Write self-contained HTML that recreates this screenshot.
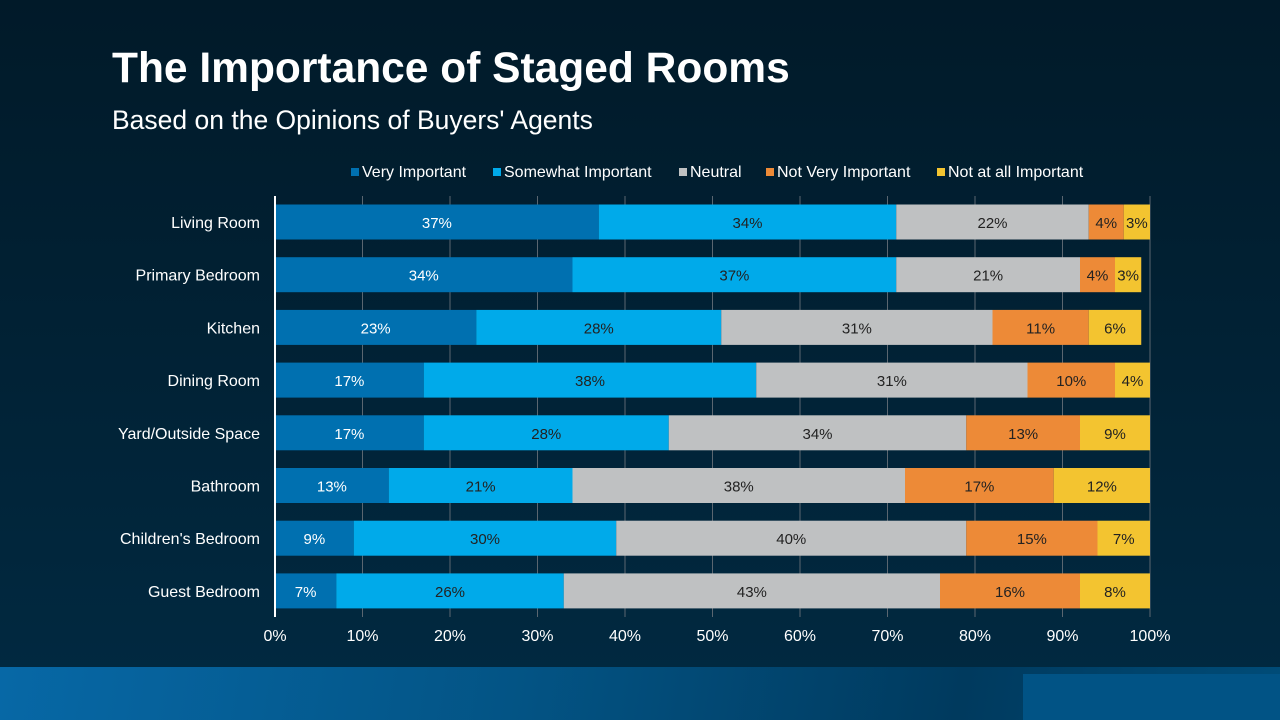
<!DOCTYPE html>
<html><head><meta charset="utf-8"><style>
body{margin:0;width:1280px;height:720px;overflow:hidden;background:linear-gradient(180deg,#011a29 0%,#012a42 100%);font-family:"Liberation Sans",sans-serif;position:relative}
#title{position:absolute;left:112px;top:45px;color:#fff;font-size:42.5px;font-weight:bold}
#sub{position:absolute;left:112px;top:105px;color:#fff;font-size:26.5px}
#band{position:absolute;left:0;top:667px;width:1280px;height:53px;background:linear-gradient(100deg,#0768a6 0%,#035485 40%,#003a5e 75%,#004c78 100%)}
#box{position:absolute;left:1023px;top:674px;width:257px;height:46px;background:#015385}
svg{position:absolute;left:0;top:0}
</style></head><body>
<div id="title">The Importance of Staged Rooms</div>
<div id="sub">Based on the Opinions of Buyers' Agents</div>
<div id="band"></div>
<div id="box"></div>
<svg id="chart" width="1280" height="720"></svg>
<script>
const categories=["Living Room","Primary Bedroom","Kitchen","Dining Room","Yard/Outside Space","Bathroom","Children's Bedroom","Guest Bedroom"];
const seriesNames=["Very Important","Somewhat Important","Neutral","Not Very Important","Not at all Important"];
const veryImportant=[37,34,23,17,17,13,9,7];
const somewhatImportant=[34,37,28,38,28,21,30,26];
const neutral=[22,21,31,31,34,38,40,43];
const notVery=[4,4,11,10,13,17,15,16];
const notAtAll=[3,3,6,4,9,12,7,8];
const tickLabels=["0%","10%","20%","30%","40%","50%","60%","70%","80%","90%","100%"];
const series=[veryImportant,somewhatImportant,neutral,notVery,notAtAll];
const colors=["#0070b0","#00aaea","#bfc1c2","#ed8a37","#f3c430"];
const textColors=["#fff","#222","#222","#222","#222"];
const NS="http://www.w3.org/2000/svg";
const svg=document.getElementById('chart');
const x=v=>275+Math.min(v,100)*8.75;
const y=i=>222+i*52.7;
function mk(t,a){const e=document.createElementNS(NS,t);for(const k in a)e.setAttribute(k,a[k]);svg.appendChild(e);return e;}
tickLabels.forEach((t,i)=>{
 const l=mk('line',{x1:x(i*10),x2:x(i*10),y1:196,y2:617,stroke:'#5a6670','stroke-width':1});
 
 
 const tx=mk('text',{x:x(i*10),y:641,fill:'#fff','font-size':16,'text-anchor':'middle'});
 tx.textContent=t;
 
 
});
categories.forEach((c,i)=>{
 let acc=0;
 series.forEach((s,j)=>{
  const v=s[i];
  const w=x(acc+v)-x(acc);
  const r=mk('rect',{x:x(acc),y:y(i)-17.5,width:w,height:35,fill:colors[j]});
  
  
  const t=mk('text',{x:x(acc)+w/2,y:y(i)+6,fill:textColors[j],'font-size':15,'text-anchor':'middle'});
  t.textContent=v+'%';
  
  
  acc+=v;
 });
 const lb=mk('text',{x:260,y:y(i)+6,fill:'#fff','font-size':16,'text-anchor':'end'});
 lb.textContent=c;
 
 
});
const ax=mk('line',{x1:275,x2:275,y1:196,y2:617,stroke:'#fff','stroke-width':2});


const legX=[351,493,679,766,937];
seriesNames.forEach((n,j)=>{
 const r=mk('rect',{x:legX[j],y:168,width:8,height:8,fill:colors[j]});
 
 
 const t=mk('text',{x:legX[j]+11,y:177,fill:'#fff','font-size':16});
 t.textContent=n;
 
 
});
</script>
</body></html>
